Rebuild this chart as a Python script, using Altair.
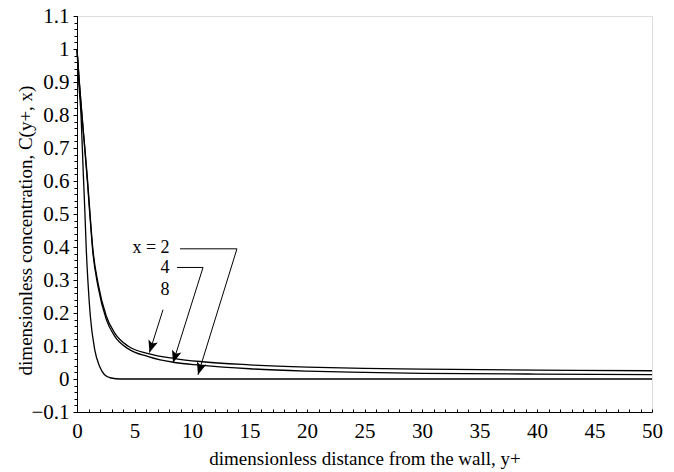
import math
import altair as alt
import pandas as pd

# ---- data ----
yplus_x8 = [0, 0.2, 0.43, 0.9, 1.07, 1.39, 1.83, 2.55, 3.27, 4.43, 6.2, 8.5, 10.7, 15, 20, 25, 30, 40, 50]
c_x8 = [1.0, 0.9, 0.8, 0.61, 0.53, 0.39, 0.29, 0.19, 0.14, 0.10, 0.077, 0.062, 0.053, 0.043, 0.036, 0.032, 0.030, 0.027, 0.025]
yplus_x4 = [0, 0.2, 0.43, 0.9, 1.07, 1.39, 1.83, 2.55, 3.27, 4.43, 6.2, 8.5, 10.7, 15, 20, 25, 30, 40, 50]
c_x4 = [1.0, 0.9, 0.8, 0.60, 0.52, 0.38, 0.28, 0.18, 0.13, 0.092, 0.068, 0.05, 0.042, 0.031, 0.024, 0.02, 0.017, 0.015, 0.013]
yplus_x2 = [0, 0.15, 0.35, 0.55, 0.67, 0.81, 0.96, 1.16, 1.54, 1.97, 2.4, 2.96, 3.8, 5, 50]
c_x2 = [1.0, 0.9, 0.8, 0.62, 0.52, 0.39, 0.29, 0.19, 0.089, 0.038, 0.013, 0.003, 0.0, 0.0, 0.0]

label_text = ["x = 2", "4", "8"]
label_x = [8.05, 8.05, 8.05]
label_y = [0.398, 0.337, 0.271]

# leader lines: label side first, arrow tip last
arrow_2_x = [8.96, 13.91, 10.52]
arrow_2_y = [0.3945, 0.3945, 0.013]
arrow_4_x = [8.70, 10.96, 8.35]
arrow_4_y = [0.338, 0.338, 0.049]
arrow_8_x = [7.48, 6.30]
arrow_8_y = [0.21, 0.080]

x_ticks = list(range(0, 51, 5))
x_minor = list(range(0, 51, 1))
y_ticks = [round(-0.1 + 0.1 * i, 2) for i in range(13)]
y_minor = [round(-0.1 + 0.02 * i, 2) for i in range(61)]

W, H = 575, 396
XD, YD = [0, 50], [-0.1, 1.1]
FONT = "Liberation Serif"

# ---- tables ----
rows = []
for name, xs, ys in [("x = 2", yplus_x2, c_x2), ("x = 4", yplus_x4, c_x4), ("x = 8", yplus_x8, c_x8)]:
    for i, (a, b) in enumerate(zip(xs, ys)):
        rows.append({"series": name, "yp": a, "c": b, "o": i})
curves = pd.DataFrame(rows)

arows, tips = [], []
for name, xs, ys in [("2", arrow_2_x, arrow_2_y), ("4", arrow_4_x, arrow_4_y), ("8", arrow_8_x, arrow_8_y)]:
    for i, (a, b) in enumerate(zip(xs, ys)):
        arows.append({"arrow": name, "yp": a, "c": b, "o": i})
    dx = (xs[-1] - xs[-2]) * W / (XD[1] - XD[0])
    dy = -(ys[-1] - ys[-2]) * H / (YD[1] - YD[0])
    ang = math.degrees(math.atan2(dx, -dy)) % 360
    tips.append({"yp": xs[-1], "c": ys[-1], "ang": ang})
arrows = pd.DataFrame(arows)
tipdf = pd.DataFrame(tips)
labels = pd.DataFrame({"t": label_text, "yp": label_x, "c": label_y})
minor_df = pd.DataFrame({"yp": [0.0], "c": [0.0]})

xscale = alt.Scale(domain=XD, nice=False, zero=False)
yscale = alt.Scale(domain=YD, nice=False, zero=False)

x_main = alt.X("yp:Q", scale=xscale, axis=alt.Axis(
    orient="bottom", values=x_ticks, title="dimensionless distance from the wall, y+",
    ticks=False, labelPadding=8, labelFont=FONT, labelFontSize=21, labelColor="black",
    titleFont=FONT, titleFontSize=19, titleFontWeight="normal", titleColor="black",
    titlePadding=8, domainColor="black", grid=False, labelFlush=False))
y_main = alt.Y("c:Q", scale=yscale, axis=alt.Axis(
    orient="left", values=y_ticks, title="dimensionless concentration, C(y+, x)",
    tickSize=4, tickColor="black", labelPadding=4, format=".1~f",
    labelFont=FONT, labelFontSize=21, labelColor="black",
    titleFont=FONT, titleFontSize=19, titleFontWeight="normal", titleColor="black",
    titleX=-42, titleY=H / 2 + 16, domainColor="black", grid=False, labelFlush=False))

curve_layer = alt.Chart(curves).mark_line(color="black", strokeWidth=1.3, interpolate="monotone").encode(
    x=x_main, y=y_main, detail="series:N", order="o:Q")

x_plain = alt.X("yp:Q", scale=xscale, axis=None)
y_plain = alt.Y("c:Q", scale=yscale, axis=None)

arrow_layer = alt.Chart(arrows).mark_line(color="black", strokeWidth=1).encode(
    x=x_plain, y=y_plain, detail="arrow:N", order="o:Q")

head_layer = alt.Chart(tipdf).mark_point(
    shape="M0,0L0.8,2L0,1.55L-0.8,2Z", filled=True, color="black", size=150, opacity=1).encode(
    x=x_plain, y=y_plain, angle=alt.Angle("ang:Q", scale=None))

text_layer = alt.Chart(labels).mark_text(
    font=FONT, fontSize=18, align="right", baseline="middle", color="black").encode(
    x=x_plain, y=y_plain, text="t:N")

minor_layer = alt.Chart(minor_df).mark_point(opacity=0).encode(
    x=alt.X("yp:Q", scale=xscale, axis=alt.Axis(
        orient="bottom", values=x_minor, labels=False, title=None, domain=False,
        tickSize=3, tickColor="black", offset=-3, grid=False)),
    y=alt.Y("c:Q", scale=yscale, axis=alt.Axis(
        orient="left", values=y_minor, labels=False, title=None, domain=False,
        tickSize=3, tickColor="black", grid=False)))

chart = alt.layer(curve_layer, arrow_layer, head_layer, text_layer, minor_layer).resolve_axis(
    x="independent", y="independent"
).properties(
    width=W, height=H, autosize=alt.AutoSizeParams(type="none"),
    padding={"left": 77, "top": 16, "right": 22, "bottom": 60}
).configure_view(stroke="black", strokeWidth=1).configure(background="white")

chart.save("out.html", embed_options={"renderer": "svg", "actions": False})
